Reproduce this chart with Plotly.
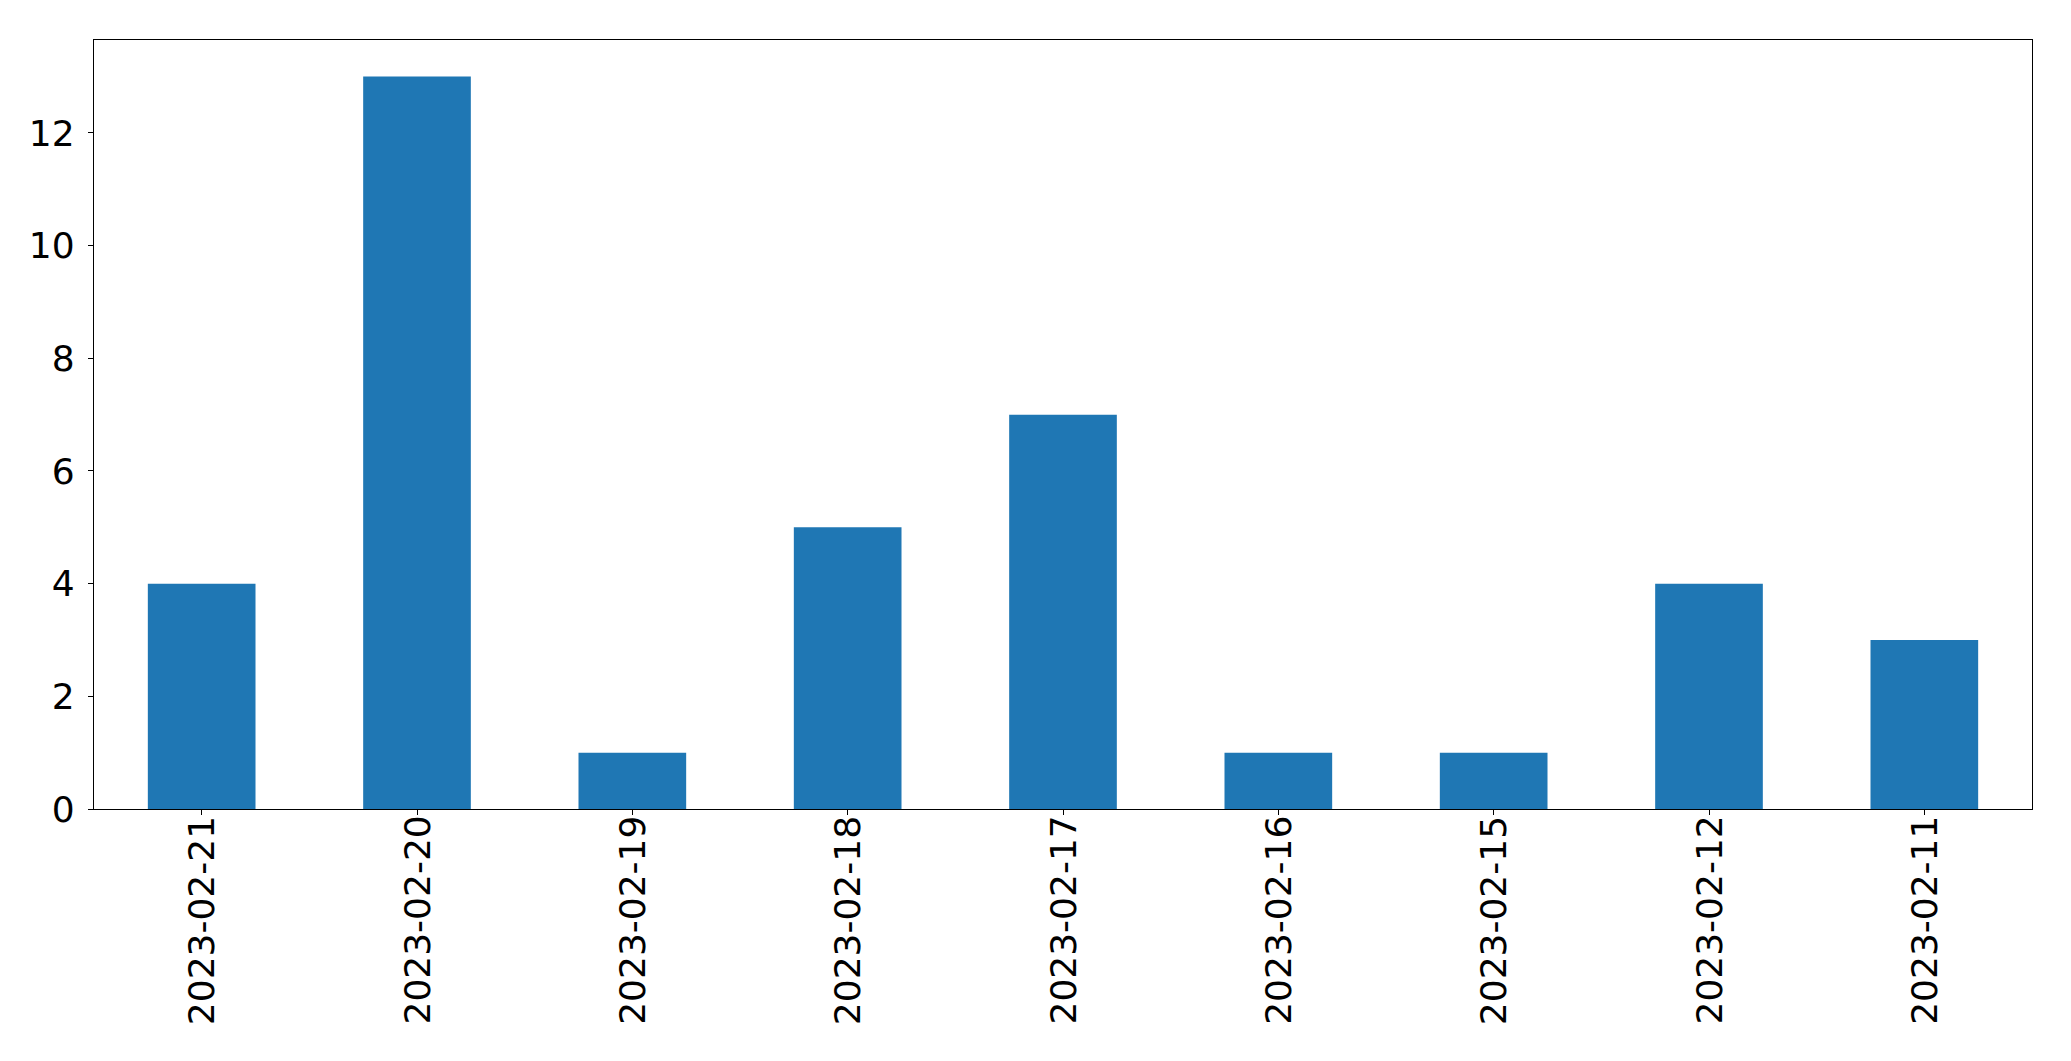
import plotly.graph_objects as go

dates = ["2023-02-21", "2023-02-20", "2023-02-19", "2023-02-18", "2023-02-17",
         "2023-02-16", "2023-02-15", "2023-02-12", "2023-02-11"]
counts = [4, 13, 1, 5, 7, 1, 1, 4, 3]
y_ticks = [0, 2, 4, 6, 8, 10, 12]

fig = go.Figure(go.Bar(x=dates, y=counts, width=0.5, marker=dict(color="#1f77b4", line=dict(width=0))))

font = dict(family="DejaVu Sans", size=36, color="black")
fig.update_layout(
    width=2071, height=1061,
    margin=dict(l=86, r=47, t=32, b=260),
    paper_bgcolor="white", plot_bgcolor="white",
    showlegend=False,
    font=font,
    bargap=0.5,
)
fig.update_xaxes(
    type="category", range=[-0.5, len(dates) - 0.5],
    ticks="outside", ticklen=5, tickwidth=1.3, tickcolor="black",
    showline=True, linecolor="black", linewidth=1.3, mirror=True,
    showgrid=False, zeroline=False, showticklabels=False,
)
for d in dates:
    fig.add_annotation(
        x=d, xref="x", y=0, yref="paper", text=d, textangle=-90,
        showarrow=False, xanchor="center", yanchor="top", yshift=-6,
        font=font, borderpad=0,
    )
fig.update_yaxes(
    range=[0, 13.65], tickvals=y_ticks, ticktext=[str(v) for v in y_ticks],
    ticks="outside", ticklen=5, tickwidth=1.3, tickcolor="black",
    showline=True, linecolor="black", linewidth=1.3, mirror=True,
    showgrid=False, zeroline=False, tickfont=font, ticklabelstandoff=6,
)
fig.write_html("out.html")
